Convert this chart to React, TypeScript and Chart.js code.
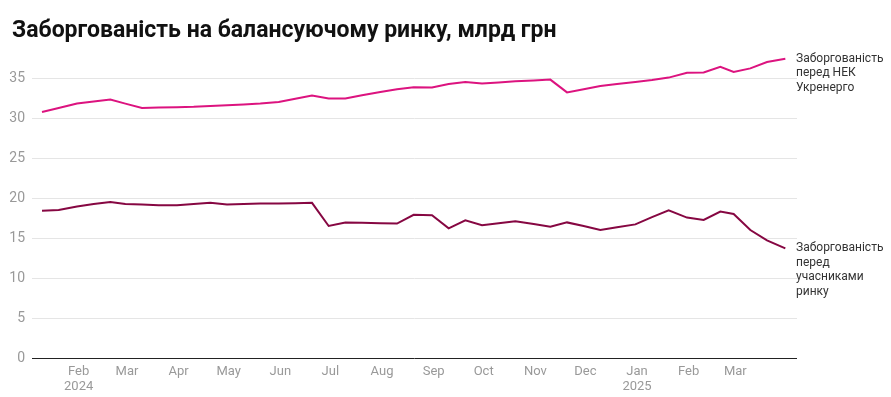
import React, { useEffect, useRef } from 'react';
import { Chart, registerables } from 'chart.js';

Chart.register(...registerables);

const chartTitle = 'Заборгованість на балансуючому ринку, млрд грн';

const dates = [
  '2024-01-10', '2024-01-20', '2024-01-31',
  '2024-02-10', '2024-02-20', '2024-02-29',
  '2024-03-10', '2024-03-20', '2024-03-31',
  '2024-04-10', '2024-04-20', '2024-04-30',
  '2024-05-10', '2024-05-20', '2024-05-31',
  '2024-06-10', '2024-06-20', '2024-06-30',
  '2024-07-10', '2024-07-20', '2024-07-31',
  '2024-08-10', '2024-08-20', '2024-08-31',
  '2024-09-10', '2024-09-20', '2024-09-30',
  '2024-10-10', '2024-10-20', '2024-10-31',
  '2024-11-10', '2024-11-20', '2024-11-30',
  '2024-12-10', '2024-12-20', '2024-12-31',
  '2025-01-10', '2025-01-20', '2025-01-31',
  '2025-02-10', '2025-02-20', '2025-02-28',
  '2025-03-10', '2025-03-20', '2025-03-31',
];

const debtToUkrenergo = [
  30.75, 31.25, 31.8,
  32.05, 32.3, 31.8,
  31.25, 31.3, 31.35,
  31.4, 31.5, 31.6,
  31.7, 31.8, 32.0,
  32.4, 32.8, 32.45,
  32.45, 32.85, 33.25,
  33.6, 33.85, 33.8,
  34.25, 34.5, 34.3,
  34.45, 34.6, 34.7,
  34.8, 33.2, 33.6,
  34.0, 34.25, 34.5,
  34.75, 35.05, 35.65,
  35.7, 36.4, 35.75,
  36.2, 37.0, 37.4,
];

const debtToParticipants = [
  18.4, 18.5, 18.95,
  19.25, 19.5, 19.25,
  19.2, 19.1, 19.1,
  19.25, 19.4, 19.2,
  19.25, 19.3, 19.3,
  19.35, 19.4, 16.5,
  16.95, 16.9, 16.85,
  16.8, 17.9, 17.85,
  16.2, 17.2, 16.6,
  16.85, 17.1, 16.75,
  16.4, 16.95, 16.5,
  16.0, 16.35, 16.7,
  17.6, 18.45, 17.55,
  17.25, 18.3, 18.0,
  16.0, 14.7, 13.7,
];

const seriesNames = ['Заборгованість перед НЕК Укренерго', 'Заборгованість перед учасниками ринку'];
const seriesLabelLines = [
  ['Заборгованість', 'перед НЕК', 'Укренерго'],
  ['Заборгованість', 'перед', 'учасниками', 'ринку'],
];
const seriesColors = ['#dc137f', '#860742'];

const monthTickDates = [
  '2024-02-01', '2024-03-01', '2024-04-01', '2024-05-01', '2024-06-01', '2024-07-01',
  '2024-08-01', '2024-09-01', '2024-10-01', '2024-11-01', '2024-12-01', '2025-01-01',
  '2025-02-01', '2025-03-01',
];
const monthTickLabels = [
  ['Feb', '2024'], ['Mar'], ['Apr'], ['May'], ['Jun'], ['Jul'],
  ['Aug'], ['Sep'], ['Oct'], ['Nov'], ['Dec'], ['Jan', '2025'],
  ['Feb'], ['Mar'],
];
const yTickValues = [0, 5, 10, 15, 20, 25, 30, 35];
const xDomain = ['2024-01-04', '2025-04-07'];
const yMax = 38;

const dayNum = (s: string) => {
  const [y, m, d] = s.split('-').map(Number);
  return Date.UTC(y, m - 1, d) / 86400000;
};

const FONT = 'Roboto, "Liberation Sans", Arial, sans-serif';

const endLabels = {
  id: 'endLabels',
  afterDatasetsDraw(chart: any) {
    const ctx = chart.ctx;
    const area = chart.chartArea;
    ctx.save();
    ctx.font = `12px ${FONT}`;
    ctx.fillStyle = '#333333';
    ctx.textAlign = 'left';
    ctx.textBaseline = 'middle';
    chart.data.datasets.forEach((_: any, i: number) => {
      const meta = chart.getDatasetMeta(i);
      const last = meta.data[meta.data.length - 1];
      const lines = seriesLabelLines[i];
      lines.forEach((line: string, j: number) => {
        ctx.fillText(line, area.right - 1, last.y + j * 14.5);
      });
    });
    ctx.restore();
  },
};

function LineChart() {
  const ref = useRef<HTMLCanvasElement | null>(null);
  useEffect(() => {
    if (!ref.current) return;
    const xs = dates.map(dayNum);
    const chart = new Chart(ref.current, {
      type: 'line',
      data: {
        datasets: [debtToUkrenergo, debtToParticipants].map((vals, i) => ({
          label: seriesNames[i],
          data: vals.map((v, k) => ({ x: xs[k], y: v })),
          borderColor: seriesColors[i],
          backgroundColor: seriesColors[i],
          borderWidth: 2,
          pointRadius: 0,
          tension: 0,
          fill: false,
        })),
      },
      options: {
        animation: false,
        responsive: false,
        maintainAspectRatio: false,
        layout: { padding: { top: 54, right: 94, left: 0, bottom: 0 } },
        plugins: {
          legend: { display: false },
          title: { display: false },
          tooltip: { enabled: false },
        },
        scales: {
          x: {
            type: 'linear',
            min: dayNum(xDomain[0]),
            max: dayNum(xDomain[1]),
            grid: { display: false, drawTicks: false },
            border: { display: false },
            afterBuildTicks: (scale: any) => {
              scale.ticks = monthTickDates.map((d) => ({ value: dayNum(d) }));
            },
            afterFit: (scale: any) => {
              scale.height = 39;
            },
            ticks: {
              autoSkip: false,
              maxRotation: 0,
              padding: 6,
              color: '#999999',
              font: { family: FONT, size: 13, lineHeight: 1.15 },
              callback: (value: any, index: number) => monthTickLabels[index] as any,
            },
          },
          y: {
            type: 'linear',
            min: 0,
            max: yMax,
            grid: {
              drawTicks: false,
              color: (c: any) => (c.tick && c.tick.value === 0 ? '#222222' : '#e5e5e5'),
              lineWidth: 1,
            },
            border: { display: false },
            afterBuildTicks: (scale: any) => {
              scale.ticks = yTickValues.map((v) => ({ value: v }));
            },
            afterFit: (scale: any) => {
              scale.width = 32;
            },
            ticks: {
              padding: 7,
              color: '#999999',
              font: { family: FONT, size: 14 },
              callback: (v: any) => String(v),
            },
          },
        },
      },
      plugins: [endLabels],
    });
    return () => chart.destroy();
  }, []);
  return <canvas ref={ref} width={891} height={397} style={{ position: 'absolute', left: 0, top: 0, width: 891, height: 397 }} />;
}

export default function App() {
  return (
    <div style={{ position: 'fixed', left: 0, top: 0, width: 891, height: 397, background: '#ffffff', overflow: 'hidden' }}>
      <LineChart />
      <div
        style={{
          position: 'absolute',
          left: 12,
          top: 16,
          fontFamily: FONT,
          fontWeight: 700,
          fontSize: 23,
          lineHeight: '28px',
          color: '#111111',
          whiteSpace: 'nowrap',
        }}
      >
        {chartTitle}
      </div>
    </div>
  );
}
